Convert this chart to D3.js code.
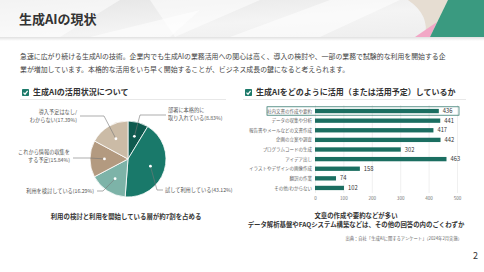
<!DOCTYPE html>
<html>
<head>
<meta charset="utf-8">
<script src="https://cdn.jsdelivr.net/npm/d3@7"></script>
<style>
  body { margin: 0; background: #fff; }
  svg { display: block; font-family: "Noto Sans CJK JP", "Noto Sans", sans-serif; }
</style>
</head>
<body>
<svg id="chart" width="484" height="272"></svg>
<script>
// データ
var pieLabels = ["部署に本格的に|取り入れている(8.83%)", "試して利用している(43.12%)", "利用を検討している(16.29%)", "これから情報の収集を|する予定(15.84%)", "導入予定はなし/|わからない(17.39%)"];
var pieValues = [8.83, 43.12, 16.29, 15.84, 17.39];
var pieColors = ["#0f5a4f", "#19796a", "#7db3a8", "#b39a80", "#cbbba6"];

var barLabels = ["社内文書の作成や要約", "データの収集や分析", "報告書やメールなどの文書作成", "企画の立案や調査", "プログラムコードの生成", "アイデア出し", "イラストやデザインの画像作成", "翻訳の作業", "その他/わからない"];
var barValues = [436, 441, 417, 442, 302, 463, 158, 74, 102];
var barTicks = [0, 100, 200, 300, 400, 500];

// 注釈の位置 (ラベル, 折れ点)
var pieNotes = [
  {x: 168, y: 112, anchor: "start", elbow: [140, 115], end: [166, 115]},
  {x: 165, y: 192, anchor: "start", elbow: [157, 190], end: [163, 190]},
  {x: 94, y: 193, anchor: "end", elbow: [103, 191], end: [97, 191]},
  {x: 70, y: 154, anchor: "end", elbow: [90, 158], end: [73, 158]},
  {x: 77, y: 114, anchor: "end", elbow: [104, 116], end: [80, 116]}
];

var svg = d3.select("#chart");
var defs = svg.append("defs");

// ヘッダー
var grad = defs.append("linearGradient").attr("id", "hdr").attr("x1", 0).attr("x2", 1).attr("y1", 0).attr("y2", 1);
grad.append("stop").attr("offset", "0%").attr("stop-color", "#e4e4e4");
grad.append("stop").attr("offset", "55%").attr("stop-color", "#f4f4f4");
grad.append("stop").attr("offset", "100%").attr("stop-color", "#ededed");
var shadow = defs.append("linearGradient").attr("id", "shd").attr("x1", 0).attr("x2", 0).attr("y1", 0).attr("y2", 1);
shadow.append("stop").attr("offset", "0%").attr("stop-color", "#000").attr("stop-opacity", 0.12);
shadow.append("stop").attr("offset", "100%").attr("stop-color", "#000").attr("stop-opacity", 0);

svg.append("rect").attr("x", 0).attr("y", 37).attr("width", 484).attr("height", 4).attr("fill", "url(#shd)");
svg.append("rect").attr("x", 0).attr("y", 0).attr("width", 484).attr("height", 37).attr("fill", "url(#hdr)");
var shards = [
  "M0,0 L120,0 L60,37 L0,37 Z",
  "M150,0 L260,0 L175,37 Z",
  "M230,37 L330,0 L400,0 L320,37 Z",
  "M90,37 L200,10 L170,37 Z"
];
svg.selectAll(".shard").data(shards).join("path").attr("class", "shard")
  .attr("d", d => d).attr("fill", "#fff").attr("opacity", 0.55);
svg.append("path").attr("d", "M408,0 L452,0 L440,37 L425,37 Q430,15 408,0 Z").attr("fill", "#e6ddd2");
svg.append("path").attr("d", "M415,37 L430,37 L437,22 Z").attr("fill", "#f2a7c6");
svg.append("path").attr("d", "M448,0 L484,0 L484,37 L430,37 Z").attr("fill", "#3a9a80");

svg.append("text").attr("x", 19).attr("y", 24).attr("font-size", 13).attr("font-weight", 700)
  .attr("fill", "#333").text("生成AIの現状");

// 本文
var body = ["急速に広がり続ける生成AIの技術。企業内でも生成AIの業務活用への関心は高く、導入の検討や、一部の業務で試験的な利用を開始する企",
            "業が増加しています。本格的な活用をいち早く開始することが、ビジネス成長の鍵になると考えられます。"];
svg.selectAll(".body").data(body).join("text").attr("class", "body")
  .attr("x", 20).attr("y", (d, i) => 59 + i * 13).attr("font-size", 6.9).attr("fill", "#444").text(d => d);

// 見出し
function heading(x, x2, label) {
  var g = svg.append("g");
  g.append("rect").attr("x", x).attr("y", 89).attr("width", 7).attr("height", 7).attr("rx", 0.8).attr("fill", "#1d7a6a");
  g.append("path").attr("d", `M${x + 1.5},${92.6} L${x + 3},${94.2} L${x + 5.6},${90.8}`)
    .attr("fill", "none").attr("stroke", "#fff").attr("stroke-width", 1.2);
  g.append("text").attr("x", x + 11).attr("y", 95.3).attr("font-size", 8).attr("font-weight", 700).attr("fill", "#333").text(label);
  g.append("line").attr("x1", x - 2).attr("x2", x2).attr("y1", 99.5).attr("y2", 99.5).attr("stroke", "#e2e2e2").attr("stroke-width", 0.8);
}
heading(22, 226, "生成AIの活用状況について");
heading(245, 466, "生成AIをどのように活用（または活用予定）しているか");

// 円グラフ
var cx = 128, cy = 159, r = 38;
var pie = d3.pie().sort(null)(pieValues);
var arc = d3.arc().innerRadius(0).outerRadius(r);
var dotArc = d3.arc().innerRadius(r * 0.62).outerRadius(r * 0.62);
var gp = svg.append("g").attr("transform", `translate(${cx},${cy})`);
gp.selectAll("path").data(pie).join("path")
  .attr("d", arc).attr("fill", (d, i) => pieColors[i]).attr("stroke", "#fff").attr("stroke-width", 0.8);

pie.forEach(function (d, i) {
  var c = dotArc.centroid(d);
  var n = pieNotes[i];
  var p0 = [cx + c[0], cy + c[1]];
  svg.append("polyline").attr("points", [p0, n.elbow, n.end].map(p => p.join(",")).join(" "))
    .attr("fill", "none").attr("stroke", "#777").attr("stroke-width", 0.6);
  svg.append("circle").attr("cx", p0[0]).attr("cy", p0[1]).attr("r", 1.4).attr("fill", "#fff");
  var t = svg.append("text").attr("x", n.x).attr("y", n.y).attr("text-anchor", n.anchor)
    .attr("font-size", 5.2).attr("fill", "#555");
  pieLabels[i].split("|").forEach(function (s, j) {
    t.append("tspan").attr("x", n.x).attr("dy", j ? 7.5 : 0).text(s);
  });
});

svg.append("text").attr("x", 126).attr("y", 219).attr("text-anchor", "middle").attr("font-size", 6.4)
  .attr("font-weight", 700).attr("fill", "#333").text("利用の検討と利用を開始している層が約7割を占める");

// 棒グラフ
var x = d3.scaleLinear().domain([0, 500]).range([315, 457]);
var y = d3.scaleBand().domain(barLabels).range([106, 193]).paddingInner(0.55).paddingOuter(0.3);

var gx = svg.append("g").attr("transform", "translate(0,193)")
  .call(d3.axisBottom(x).tickValues(barTicks).tickSize(-88).tickPadding(4));
gx.select(".domain").remove();
gx.selectAll(".tick line").attr("stroke", "#e6e6e6").attr("stroke-width", 0.6);
gx.selectAll(".tick text").attr("font-size", 4.6).attr("fill", "#777").attr("font-family", "Noto Sans CJK JP");

svg.append("rect").attr("x", 267).attr("y", 106.8).attr("width", 192).attr("height", 8.4)
  .attr("fill", "none").attr("stroke", "#1d6a5e").attr("stroke-width", 0.7);

svg.selectAll(".bar").data(barValues).join("rect").attr("class", "bar")
  .attr("x", x(0)).attr("y", (d, i) => y(barLabels[i]))
  .attr("width", d => x(d) - x(0)).attr("height", y.bandwidth()).attr("fill", "#1b6e61");

svg.selectAll(".blab").data(barLabels).join("text").attr("class", "blab")
  .attr("x", 312).attr("y", d => y(d) + y.bandwidth() / 2 + 1.6).attr("text-anchor", "end")
  .attr("font-size", 4.5).attr("fill", "#666").text(d => d);

svg.selectAll(".bval").data(barValues).join("text").attr("class", "bval")
  .attr("x", d => x(d) + 4).attr("y", (d, i) => y(barLabels[i]) + y.bandwidth() / 2 + 2)
  .attr("font-size", 5.8).attr("fill", "#333").text(d => d);

var capR = ["文章の作成や要約などが多い", "データ解析基盤やFAQシステム構築などは、その他の回答の内のごくわずか"];
svg.selectAll(".capr").data(capR).join("text").attr("class", "capr")
  .attr("x", 356).attr("y", (d, i) => 218 + i * 8.5).attr("text-anchor", "middle")
  .attr("font-size", 6.4).attr("font-weight", 700).attr("fill", "#333").text(d => d);

svg.append("text").attr("x", 462).attr("y", 240).attr("text-anchor", "end").attr("font-size", 4.3)
  .attr("fill", "#666").text("出典：自社「生成AIに関するアンケート」（2024年2月実施）");

svg.append("text").attr("x", 478).attr("y", 259).attr("text-anchor", "end").attr("font-size", 9)
  .attr("fill", "#333").text("2");
</script>
</body>
</html>
